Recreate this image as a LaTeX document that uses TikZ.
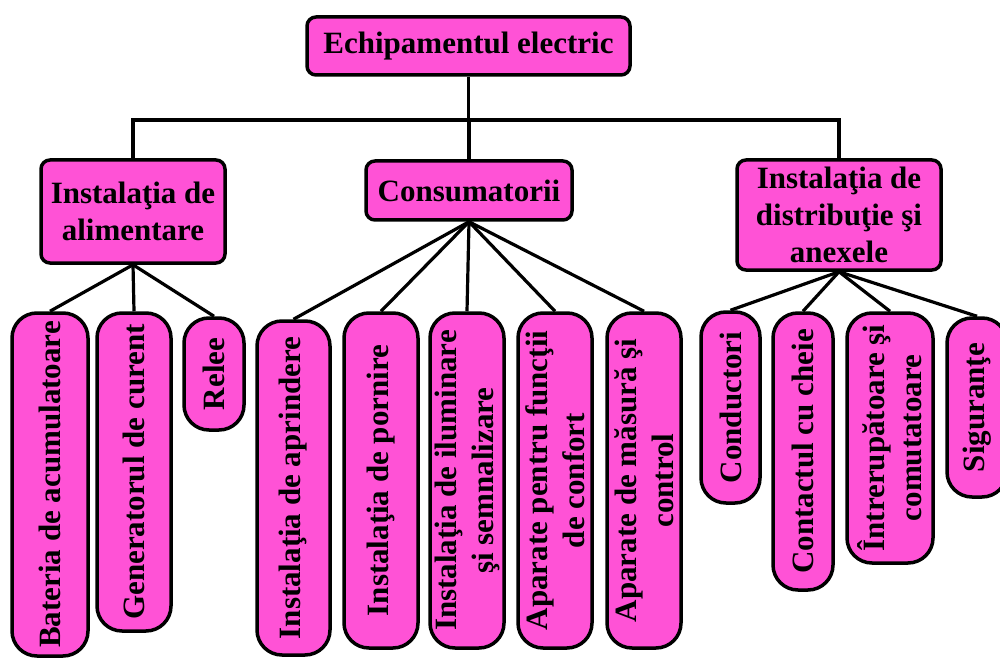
\documentclass[tikz,border=0pt]{standalone}
\usepackage{fontspec}
\setmainfont{Liberation Serif}
\definecolor{mag}{RGB}{255,82,214}
\tikzset{
  box/.style={draw=black, line width=3.5pt, fill=mag,
    font=\fontsize{31}{37}\selectfont\bfseries, align=center, inner sep=0pt},
  hbox/.style={box, rounded corners=9pt},
  vbox/.style={box, rotate=90, rounded corners=25pt},
  conn/.style={draw=black, line width=3.2pt}
}
\begin{document}
\begin{tikzpicture}[x=1pt,y=-1pt]
\clip (0,0) rectangle (1000,660);
% bus coordinate
\coordinate (busy) at (0,120);
% top level
\node[hbox, minimum width=323pt, minimum height=58pt] (top) at (468.5,46) {Echipamentul electric};
\node[hbox, minimum width=184pt, minimum height=103pt] (alim) at (133,211.5) {Instalaţia de\\alimentare};
\node[hbox, minimum width=206pt, minimum height=59pt] (cons) at (469,190.5) {Consumatorii};
\node[hbox, minimum width=204pt, minimum height=110pt] (dist) at (839,215) {Instalaţia de\\distribuţie şi\\anexele};
% children of alimentare
\node[vbox, minimum width=343pt, minimum height=76pt] (bat) at (50,484.5) {Bateria de acumulatoare};
\node[vbox, minimum width=318pt, minimum height=74pt] (gen) at (134,472) {Generatorul de curent};
\node[vbox, minimum width=112pt, minimum height=60pt] (rel) at (214,374) {Relee};
% children of consumatorii
\node[vbox, minimum width=334pt, minimum height=73pt] (apr) at (293.5,488) {Instalaţia de aprindere};
\node[vbox, minimum width=335pt, minimum height=74pt] (por) at (381,480.5) {Instalaţia de pornire};
\node[vbox, minimum width=335pt, minimum height=74pt] (ilu) at (467,480.5) {Instalaţia de iluminare\\şi semnalizare};
\node[vbox, minimum width=335pt, minimum height=74pt] (conf) at (555,480.5) {Aparate pentru funcţii\\de confort};
\node[vbox, minimum width=335pt, minimum height=74pt] (mas) at (644,480.5) {Aparate de măsură şi\\control};
% children of distributie
\node[vbox, minimum width=191pt, minimum height=59pt] (cond) at (730.5,407.5) {Conductori};
\node[vbox, minimum width=277pt, minimum height=60pt] (cont) at (803,451.5) {Contactul cu cheie};
\node[vbox, minimum width=250pt, minimum height=86pt] (intr) at (890,438) {Întrerupătoare şi\\comutatoare};
\node[vbox, minimum width=179pt, minimum height=60pt] (sig) at (977,407.5) {Siguranţe};
% bus
\draw[conn] (top.south) -- (top.south |- busy);
\draw[conn] (alim.north) |- (dist.north |- busy) -- (dist.north);
\draw[conn] (cons.north) -- (cons.north |- busy);
% branches
\foreach \c in {bat,gen,rel} \draw[conn] (alim.south) -- (\c.east);
\foreach \c in {apr,por,ilu,conf,mas} \draw[conn] (cons.south) -- (\c.east);
\foreach \c in {cond,cont,intr,sig} \draw[conn] (dist.south) -- (\c.east);
\end{tikzpicture}
\end{document}
